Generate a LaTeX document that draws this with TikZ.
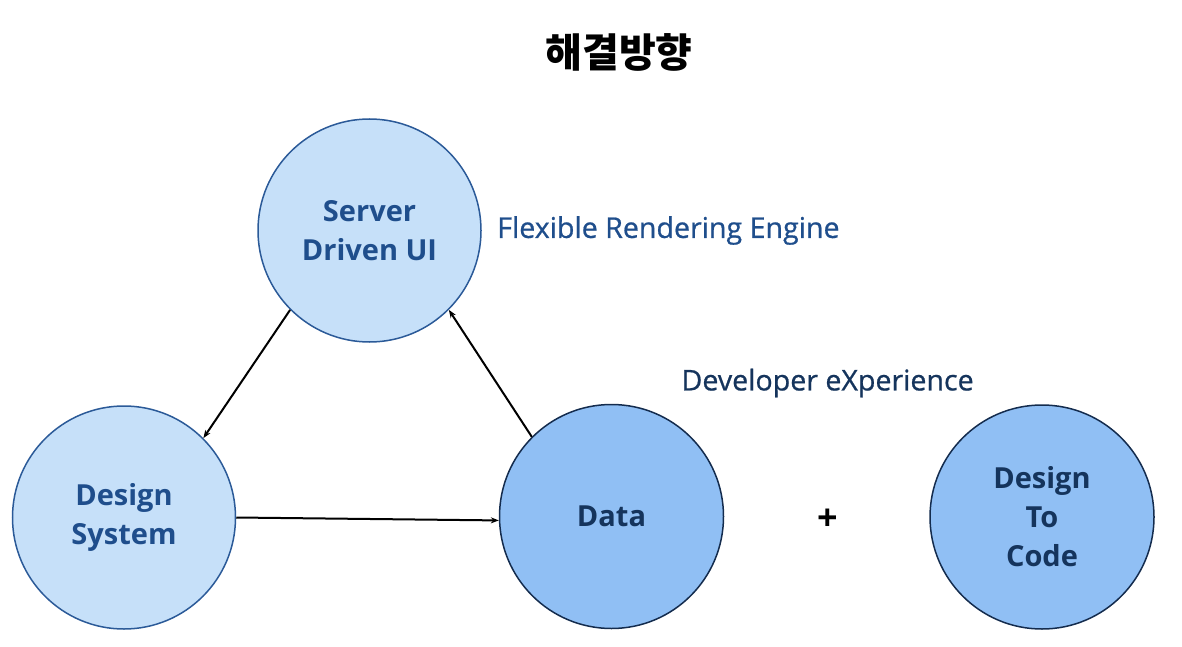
\documentclass[tikz,border=0pt]{standalone}
\usepackage{fontspec}
\setmainfont{Open Sans}
\newfontfamily\krfont{Noto Sans CJK KR}
\newfontfamily\medfont{Open Sans}[FakeBold=0.7]
\usetikzlibrary{positioning,
	arrows.meta}
\definecolor{lightfill}{HTML}{C6E0F9}
\definecolor{lightline}{HTML}{2B5A98}
\definecolor{lighttext}{HTML}{1F4E8C}
\definecolor{darkfill}{HTML}{90BFF4}
\definecolor{darkline}{HTML}{142C4E}
\definecolor{darktext}{HTML}{15345C}
\tikzset{
	lightbubble/.style={circle, draw=lightline, fill=lightfill, line width=1.5pt, minimum size=223pt, align=center, text=lighttext, font=\bfseries\fontsize{29}{39}\selectfont},
	darkbubble/.style={circle, draw=darkline, fill=darkfill, line width=1.5pt, minimum size=224pt, align=center, text=darktext, font=\bfseries\fontsize{29}{39}\selectfont},
	sidenote/.style={font=\medfont\fontsize{28.6}{34}\selectfont},
	link/.style={-{Stealth[length=8pt, width=6pt]}, line width=2pt, black}
}
\begin{document}
\begin{tikzpicture}[x=1pt, y=-1pt]
                            \useasboundingbox (0,0) rectangle (1182,647);
                            \node (title) [font=\krfont\bfseries\fontsize{40}{48}\selectfont] at (619,52) {해결방향};
                            \node (sdui) [lightbubble] at (369.5,230.5) {Server\\Driven UI};
                            \node (dsys) [lightbubble] at (124,517.5) {Design\\System};
                            \node (data) [darkbubble] at (611.5,516.5) {Data};
                            \node (d2c) [darkbubble] at (1042,517) {Design\\To\\Code};
                            \node (fre) [right=12pt of sdui, sidenote, text=lighttext] {Flexible Rendering Engine};
                            \node (dx) [anchor=west, sidenote, text=darktext] at (678,383) {Developer eXperience};
                            \node (plus) [font=\bfseries\fontsize{36}{40}\selectfont] at (828,520) {+};
                            \draw [link] (sdui.225) -- (dsys.45);
                            \draw [link] (data.135) -- (sdui.-45);
                            \draw [link] (dsys.east) -- (data.182);
                        \end{tikzpicture}
\end{document}
